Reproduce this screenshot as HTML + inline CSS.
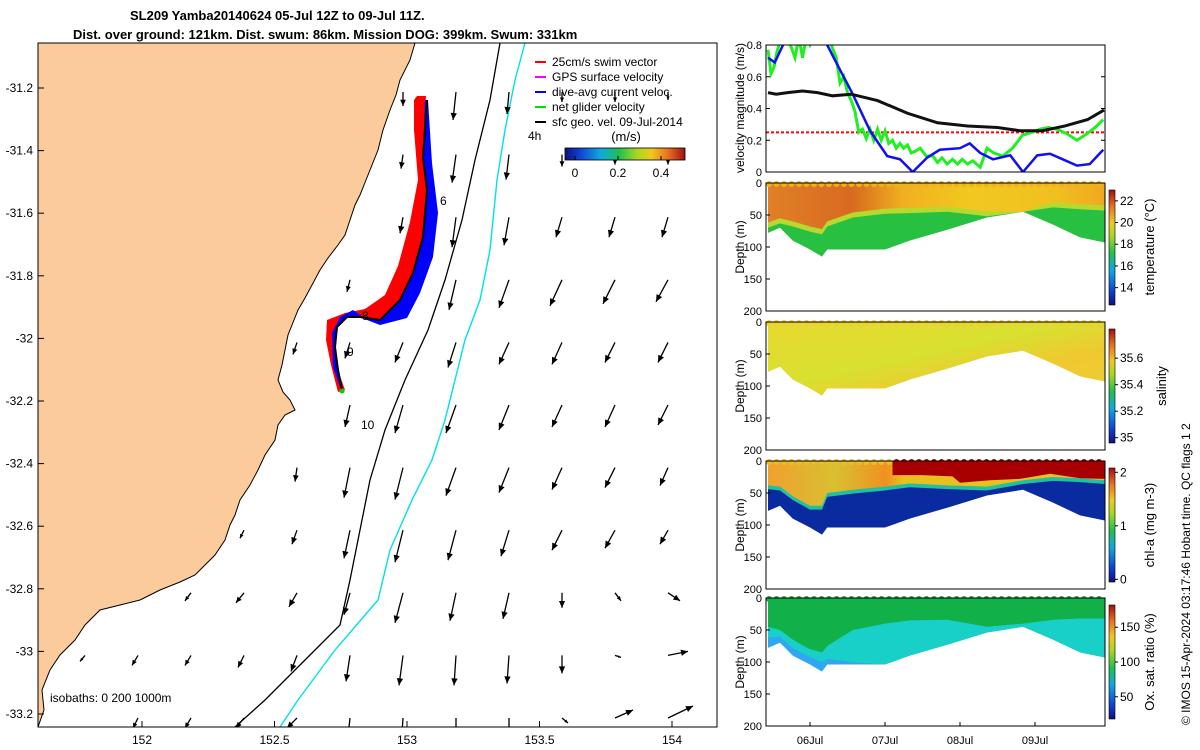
<!DOCTYPE html>
<html><head><meta charset="utf-8"><style>
body{margin:0;background:#fff}
svg{display:block;font-family:"Liberation Sans","DejaVu Sans",sans-serif}
</style></head><body>
<svg id="s" width="1200" height="750" viewBox="0 0 1200 750" xmlns="http://www.w3.org/2000/svg">
<defs>
<clipPath id="mapclip"><rect x="38" y="43" width="679" height="684"/></clipPath>
<clipPath id="velclip"><rect x="766" y="45" width="339" height="127"/></clipPath>
<linearGradient id="jet" x1="0" y1="1" x2="0" y2="0">
<stop offset="0" stop-color="#10107a"/><stop offset="0.12" stop-color="#1040d0"/><stop offset="0.3" stop-color="#10a8e0"/><stop offset="0.45" stop-color="#20c050"/><stop offset="0.6" stop-color="#a8d820"/><stop offset="0.72" stop-color="#f0c820"/><stop offset="0.86" stop-color="#e87020"/><stop offset="1" stop-color="#a01010"/>
</linearGradient>
<linearGradient id="jeth" x1="0" y1="0" x2="1" y2="0">
<stop offset="0" stop-color="#10107a"/><stop offset="0.12" stop-color="#1040d0"/><stop offset="0.3" stop-color="#10a8e0"/><stop offset="0.45" stop-color="#20c050"/><stop offset="0.6" stop-color="#a8d820"/><stop offset="0.72" stop-color="#f0c820"/><stop offset="0.86" stop-color="#e87020"/><stop offset="1" stop-color="#a01010"/>
</linearGradient>
<linearGradient id="tempTop" x1="0" y1="0" x2="1" y2="0">
<stop offset="0" stop-color="#e08028"/><stop offset="0.25" stop-color="#d86a20"/><stop offset="0.4" stop-color="#f0b020"/><stop offset="0.6" stop-color="#f2c820"/><stop offset="0.85" stop-color="#f0c020"/><stop offset="1" stop-color="#f0a820"/>
</linearGradient>
<linearGradient id="salG" x1="0" y1="0" x2="1" y2="1">
<stop offset="0" stop-color="#e8d830"/><stop offset="0.45" stop-color="#d8e030"/><stop offset="0.7" stop-color="#f0c830"/><stop offset="1" stop-color="#ecd030"/>
</linearGradient>
<linearGradient id="chlTop" x1="0" y1="0" x2="1" y2="0">
<stop offset="0" stop-color="#f0a030"/><stop offset="0.2" stop-color="#d8c030"/><stop offset="0.35" stop-color="#f09020"/><stop offset="0.4" stop-color="#e8c020"/><stop offset="1" stop-color="#e8c020"/>
</linearGradient>
</defs>
<rect width="1200" height="750" fill="#fff"/>
<text x="130" y="20" font-size="13" font-weight="bold">SL209 Yamba20140624 05-Jul 12Z to 09-Jul 11Z.</text>
<text x="73" y="39" font-size="13" font-weight="bold">Dist. over ground: 121km. Dist. swum: 86km. Mission DOG: 399km. Swum: 331km</text>
<g id="map"></g>
<g id="right"></g>
<text transform="translate(1190,725) rotate(-90)" font-size="12">© IMOS 15-Apr-2024 03:17:46 Hobart time. QC flags 1  2</text>
</svg>
<script>
// ---------- MAP DATA ----------
const lonTicks=[152,152.5,153,153.5,154];
const latTicks=[-31.2,-31.4,-31.6,-31.8,-32,-32.2,-32.4,-32.6,-32.8,-33,-33.2];
const coast=[[38,43],[415,43],[410,60],[400,80],[396,95],[390,110],[383,130],[378,150],[372,165],[366,180],[360,195],[355,205],[350,220],[345,235],[338,245],[328,258],[320,270],[312,285],[305,298],[298,310],[292,325],[288,335],[285,350],[282,365],[278,380],[283,392],[290,400],[295,410],[285,415],[278,425],[275,440],[265,455],[258,470],[250,485],[240,500],[235,515],[230,525],[225,540],[215,555],[205,565],[195,575],[180,582],[160,590],[140,600],[120,605],[100,610],[85,625],[75,640],[60,655],[50,670],[42,690],[44,710],[38,727]];
const iso200=[[500,43],[490,100],[475,160],[462,220],[445,280],[428,330],[405,380],[385,430],[370,480],[360,530],[350,580],[340,625],[310,655],[265,700],[235,727]];
const iso1000=[[525,43],[515,80],[505,130],[497,180],[490,250],[480,300],[465,340],[455,380],[445,420],[432,460],[412,500],[390,550],[378,600],[335,650],[298,700],[280,727]];
// quiver rows: [row, col, dx, dy]
const arrows=[[0,6,0,14],[0,7,-3,28],[0,8,-2,22],[0,9,0,10],[0,10,0,10],[0,11,0,8],
[1,6,-2,14],[1,7,-4,28],[1,8,-3,25],[1,9,0,12],[1,10,0,10],[1,11,0,10],
[2,6,-3,16],[2,7,-4,30],[2,8,-5,28],[2,9,-6,20],[2,10,-6,20],[2,11,-6,20],
[3,5,-3,12],[3,6,-5,25],[3,7,-7,30],[3,8,-10,28],[3,9,-12,26],[3,10,-12,24],[3,11,-12,22],[3,12,0,5],
[4,4,-4,12],[4,5,-5,16],[4,6,-8,20],[4,7,-8,25],[4,8,-10,22],[4,9,-10,22],[4,10,-10,20],[4,11,-10,20],[4,12,-2,4],
[5,5,-5,22],[5,6,-8,28],[5,7,-10,28],[5,8,-10,25],[5,9,-10,22],[5,10,-10,22],[5,11,-10,20],
[6,4,-2,14],[6,5,-6,30],[6,6,-8,32],[6,7,-10,28],[6,8,-10,25],[6,9,-10,22],[6,10,-10,20],[6,11,-8,18],
[7,3,-4,8],[7,4,-5,14],[7,5,-6,28],[7,6,-8,32],[7,7,-8,30],[7,8,-8,26],[7,9,-10,20],[7,10,-10,18],[7,11,-8,14],
[8,2,-6,8],[8,3,-8,10],[8,4,-8,14],[8,5,-6,22],[8,6,-8,30],[8,7,-6,28],[8,8,-6,26],[8,9,0,15],[8,10,6,8],[8,11,12,8],
[9,0,-5,6],[9,1,-6,10],[9,2,-6,10],[9,3,-6,12],[9,4,-6,16],[9,5,-4,26],[9,6,-4,30],[9,7,-2,30],[9,8,-2,28],[9,9,0,18],[9,10,6,2],[9,11,20,-4],[9,12,25,-4],
[10,1,-5,10],[10,2,-6,10],[10,3,-8,10],[10,4,-10,10],[10,5,-3,28],[10,6,-2,30],[10,7,0,28],[10,8,0,18],[10,9,6,5],[10,10,18,-8],[10,11,25,-12],[10,12,30,-14]];
const track=[[427,100],[423,157],[427,190],[423,237],[413,273],[400,300],[380,320],[360,317],[347,317],[337,327],[335,347],[338,370],[342,390]];
const blueBand=[[428,100],[432,163],[438,213],[433,257],[420,293],[407,318],[380,325],[367,320],[353,310],[340,317],[332,333],[333,367],[340,387],[342,390],[338,370],[335,347],[337,327],[347,317],[360,317],[380,320],[400,300],[413,273],[423,237],[427,190],[423,157],[425,100]];
const redBand=[[417,96],[426,96],[423,157],[427,190],[423,237],[413,273],[400,300],[380,320],[360,317],[347,317],[337,327],[335,347],[338,370],[345,390],[338,392],[331,365],[326,340],[327,320],[345,313],[365,309],[385,295],[398,266],[410,222],[418,180],[414,130],[414,100]];

// ---------- VELOCITY DATA (days since 06-Jul 00Z) ----------
const blueT=[-0.56,-0.47,-0.36,-0.27,0,0.23,0.36,0.57,0.8,1.03,1.2,1.37,1.56,1.73,2.0,2.13,2.27,2.44,2.67,2.84,3.03,3.2,3.37,3.56,3.73,3.91];
const blueV=[0.72,0.69,0.8,0.9,0.95,0.8,0.68,0.49,0.26,0.1,0.08,0,0.09,0.14,0.15,0.18,0.12,0.08,0.105,0,0.105,0.115,0.08,0.04,0.05,0.14];
const greenT=[-0.56,-0.52,-0.48,-0.44,-0.4,-0.3,-0.2,-0.15,-0.1,-0.05,0,0.1,0.25,0.3,0.35,0.4,0.45,0.5,0.55,0.6,0.65,0.7,0.75,0.8,0.85,0.9,0.95,1.0,1.05,1.1,1.15,1.2,1.25,1.3,1.35,1.4,1.47,1.55,1.64,1.7,1.76,1.83,1.9,1.97,2.03,2.1,2.17,2.27,2.36,2.45,2.57,2.7,2.83,2.95,3.07,3.18,3.29,3.43,3.56,3.69,3.8,3.91];
const greenV=[0.77,0.62,0.66,0.76,0.82,0.85,0.72,0.85,0.72,0.85,0.8,0.9,0.85,0.78,0.72,0.56,0.6,0.5,0.45,0.38,0.25,0.27,0.21,0.27,0.2,0.27,0.2,0.26,0.18,0.2,0.15,0.18,0.15,0.17,0.12,0.13,0.15,0.1,0.1,0.06,0.09,0.05,0.08,0.05,0.08,0.05,0.07,0.03,0.15,0.12,0.1,0.15,0.23,0.25,0.27,0.28,0.27,0.24,0.2,0.24,0.28,0.33];
const blackT=[-0.56,-0.45,-0.3,-0.1,0.1,0.3,0.55,0.9,1.3,1.7,2.1,2.5,2.8,3.1,3.4,3.7,3.92];
const blackV=[0.5,0.49,0.5,0.51,0.5,0.48,0.49,0.45,0.37,0.31,0.29,0.28,0.26,0.26,0.29,0.33,0.39];
const swimV=0.25;
const velTicks=[0,0.2,0.4,0.6,0.8];
const dateTicks=[0,1,2,3];
const dateLabels=["06Jul","07Jul","08Jul","09Jul"];

// ---------- SECTION DATA ----------
const profT=[-0.56,-0.4,-0.23,0,0.16,0.23,0.57,1.0,1.33,1.83,2.36,2.84,3.24,3.6,3.93];
const bottomD=[78,70,90,104,115,104,104,104,90,73,54,45,65,85,93];
const tempIface=[62,55,60,68,72,60,46,40,39,37,44,45,30,33,35];
const chlIface=[38,40,55,70,70,50,45,40,35,38,40,30,25,27,30];
const chlRedT=[1.1,1.5,1.9,2.0,2.4,2.8,3.2,3.6,3.93];
const chlRedD=[22,22,24,34,30,28,20,27,28];
const oxIface=[45,50,65,80,85,75,50,40,35,34,45,40,34,32,32];
const oxBlue=[62,60,78,92,100,95,100,104,90,73,54,45,65,85,93];
const depthTicks=[0,50,100,150,200];

const NS='http://www.w3.org/2000/svg';
function el(tag,attrs,parent,txt){const e=document.createElementNS(NS,tag);for(const k in attrs)e.setAttribute(k,attrs[k]);if(txt!==undefined)e.textContent=txt;parent.appendChild(e);return e;}
const map=document.getElementById('map');
const right=document.getElementById('right');
const xLon=l=>142+(l-152)*265;
const yLat=a=>88+(-31.2-a)*313;
const pts=a=>a.map(p=>p.join(',')).join(' ');

let g=el('g',{'clip-path':'url(#mapclip)'},map);
let e=el('polygon',{points:pts(coast),fill:'#fbcb9b',stroke:'#000','stroke-width':1},g);

e=el('polyline',{points:pts(iso200),fill:'none',stroke:'#000','stroke-width':1.3},g);

e=el('polyline',{points:pts(iso1000),fill:'none',stroke:'#00e0e8','stroke-width':1.4},g);

arrows.forEach(a=>{
  const x=85+53*a[1],y=88+62.6*a[0]+4,x2=x+a[2],y2=y+a[3];
  const L=Math.hypot(a[2],a[3]),ux=a[2]/L,uy=a[3]/L,h=Math.min(7,L*0.45),w=h*0.45;
  const ag=el('g',{},g);
  
  el('line',{x1:x,y1:y,x2:x2,y2:y2,stroke:'#000','stroke-width':1.3},ag);
  el('polygon',{points:`${x2},${y2} ${x2-ux*h-uy*w},${y2-uy*h+ux*w} ${x2-ux*h+uy*w},${y2-uy*h-ux*w}`,fill:'#000'},ag);
});
e=el('polygon',{points:pts(redBand),fill:'#ff0000'},g);

e=el('polygon',{points:pts(blueBand),fill:'#0000ff'},g);

e=el('polyline',{points:pts(track),fill:'none',stroke:'#000','stroke-width':2},g);

el('circle',{cx:342,cy:391,r:2.5,fill:'#00d000'},g);
[['6',440,205],['8',362,320],['9',347,356],['10',361,429],['4h',528,140]].forEach(t=>{
  e=el('text',{x:t[1],y:t[2],'font-size':12},g,t[0]);
  
});
e=el('text',{x:50,y:702,'font-size':12},map,'isobaths: 0   200  1000m');

e=el('rect',{x:38,y:43,width:679,height:684,fill:'none',stroke:'#000','stroke-width':1},map);

lonTicks.forEach(l=>{
  const x=xLon(l);
  el('line',{x1:x,y1:727,x2:x,y2:721,stroke:'#000'},map);
  e=el('text',{x:x,y:744,'font-size':12,'text-anchor':'middle'},map,String(l));
  
});
latTicks.forEach(l=>{
  const y=yLat(l);
  el('line',{x1:38,y1:y,x2:44,y2:y,stroke:'#000'},map);
  e=el('text',{x:33,y:y+4,'font-size':12,'text-anchor':'end'},map,String(l));
  
});
const leg=el('g',{},map);

[['#ff0000','25cm/s swim vector'],['#ff00ff','GPS surface velocity'],['#0000ff','dive-avg current veloc.'],['#00e000','net glider velocity'],['#000','sfc geo. vel. 09-Jul-2014']].forEach((d,i)=>{
  const y=62+15*i;
  el('line',{x1:535,y1:y,x2:546,y2:y,stroke:d[0],'stroke-width':2},leg);
  e=el('text',{x:552,y:y+4,'font-size':12},leg,d[1]);
  
});
e=el('text',{x:626,y:141,'font-size':13,'text-anchor':'middle'},map,'(m/s)');

e=el('rect',{x:565,y:148,width:120,height:12,fill:'url(#jeth)',stroke:'#000','stroke-width':0.8},map);

[[0,575],[0.2,618],[0.4,661]].forEach(t=>{
  el('line',{x1:t[1],y1:160,x2:t[1],y2:156,stroke:'#000'},map);
  e=el('text',{x:t[1],y:177,'font-size':12,'text-anchor':'middle'},map,String(t[0]));
  
});

// ---------- RIGHT PANELS ----------
const xD=d=>810+75*d;
const AX0=766,AX1=1105;
const vy=v=>172-v*158.75;
const vg=el('g',{},right);

const vc=el('g',{'clip-path':'url(#velclip)'},vg);
e=el('line',{x1:AX0,y1:vy(swimV),x2:AX1,y2:vy(swimV),stroke:'#ff0000','stroke-width':2,'stroke-dasharray':'3,2'},vc);

e=el('polyline',{points:greenT.map((t,i)=>xD(t)+','+vy(greenV[i])).join(' '),fill:'none',stroke:'#20f020','stroke-width':3},vc);

e=el('polyline',{points:blueT.map((t,i)=>xD(t)+','+vy(blueV[i])).join(' '),fill:'none',stroke:'#1010f0','stroke-width':2.5},vc);

e=el('polyline',{points:blackT.map((t,i)=>xD(t)+','+vy(blackV[i])).join(' '),fill:'none',stroke:'#111','stroke-width':3},vc);

el('rect',{x:AX0,y:45,width:AX1-AX0,height:127,fill:'none',stroke:'#000'},vg);
velTicks.forEach(v=>{
  el('line',{x1:AX0,y1:vy(v),x2:AX0+4,y2:vy(v),stroke:'#000'},vg);
  el('line',{x1:AX1,y1:vy(v),x2:AX1-4,y2:vy(v),stroke:'#000'},vg);
  e=el('text',{x:AX0-4,y:vy(v)+4,'font-size':11,'text-anchor':'end'},vg,String(v));
  
});
e=el('text',{transform:'translate(744,108) rotate(-90)','font-size':12,'text-anchor':'middle'},vg,'velocity magnitude (m/s)');


const panels=[
 {y0:183,name:'temperature',label:'temperature (°C)',ticks:[14,16,18,20,22],min:12.4,max:23,cb:[190,305]},
 {y0:322,name:'salinity',label:'salinity',ticks:['35','35.2','35.4','35.6'],min:34.96,max:35.82,cb:[329,443]},
 {y0:461,name:'chl-a',label:'chl-a (mg m-3)',ticks:[0,1,2],min:-0.05,max:2.08,cb:[468,582]},
 {y0:598,name:'oxygen',label:'Ox. sat. ratio (%)',ticks:[50,100,150],min:18,max:182,cb:[605,719]}];
function layer(g,y0,topArr,botArr,fill,name,ts){
  ts=ts||profT;
  const dy=d=>y0+d/200*128;
  const xs=ts.map(t=>Math.max(AX0,Math.min(AX1,xD(t))));
  const p=xs.map((x,i)=>x+','+dy(topArr[i])).concat(xs.slice().reverse().map((x,i)=>x+','+dy(botArr[botArr.length-1-i])));
  const e=el('polygon',{points:p.join(' '),fill:fill},g);
  
}
const zero=profT.map(()=>0);
panels.forEach((P,k)=>{
  const pg=el('g',{},right);
  
  const y0=P.y0,dy=d=>y0+d/200*128;
  if(k===0){
    layer(pg,y0,zero,bottomD,'#28c040','temp-cold-layer');
    layer(pg,y0,zero,tempIface.map((d,i)=>Math.min(d+8,bottomD[i])),'#b8d830','temp-transition-layer');
    layer(pg,y0,zero,tempIface,'url(#tempTop)','temp-warm-layer');
  }else if(k===1){
    layer(pg,y0,zero,bottomD,'url(#salG)','salinity-layer');
  }else if(k===2){
    layer(pg,y0,zero,bottomD,'#0a2aa0','chl-deep-layer');
    layer(pg,y0,zero,chlIface.map((d,i)=>Math.min(d+6,bottomD[i])),'#20c0a0','chl-transition-layer');
    layer(pg,y0,zero,chlIface,'url(#chlTop)','chl-surface-layer');
    layer(pg,y0,chlRedT.map(()=>0),chlRedD,'#a80000','chl-max-layer',chlRedT);
  }else{
    layer(pg,y0,zero,bottomD,'#30a8f0','oxygen-bottom-layer');
    layer(pg,y0,zero,oxBlue,'#18d0c8','oxygen-deep-layer');
    layer(pg,y0,zero,oxIface,'#12b048','oxygen-surface-layer');
  }
  const topCol=['#f0b020','#f0d030','#e8c020','#12b048'][k];
  for(let x=AX0+3;x<AX1;x+=7.5){el('circle',{cx:x,cy:y0+1,r:3,fill:k==2&&x>893?'#a80000':topCol},pg);}
  el('rect',{x:AX0,y:y0,width:AX1-AX0,height:128,fill:'none',stroke:'#000'},pg);
  depthTicks.forEach(d=>{
    el('line',{x1:AX0,y1:dy(d),x2:AX0+4,y2:dy(d),stroke:'#000'},pg);
    e=el('text',{x:AX0-4,y:dy(d)+4,'font-size':11,'text-anchor':'end'},pg,String(d));
    
  });
  e=el('text',{transform:`translate(744,${y0+64}) rotate(-90)`,'font-size':12,'text-anchor':'middle'},pg,'Depth (m)');
  
  const cb=el('rect',{x:1109,y:P.cb[0],width:6,height:P.cb[1]-P.cb[0],fill:'url(#jet)',stroke:'#000','stroke-width':0.6},pg);
  
  P.ticks.forEach(t=>{
    const y=P.cb[1]-(parseFloat(t)-P.min)/(P.max-P.min)*(P.cb[1]-P.cb[0]);
    el('line',{x1:1115,y1:y,x2:1118,y2:y,stroke:'#000'},pg);
    e=el('text',{x:1120,y:y+4,'font-size':12},pg,String(t));
    
  });
  e=el('text',{transform:`translate(${k==1?1166:1154},${y0+64}) rotate(-90)`,'font-size':13,'text-anchor':'middle'},pg,P.label);
  
});
dateTicks.forEach((d,i)=>{
  const x=xD(d);
  el('line',{x1:x,y1:726,x2:x,y2:722,stroke:'#000'},right);
  e=el('text',{x:x,y:744,'font-size':11,'text-anchor':'middle'},right,dateLabels[i]);
  
});
</script>
</body></html>
